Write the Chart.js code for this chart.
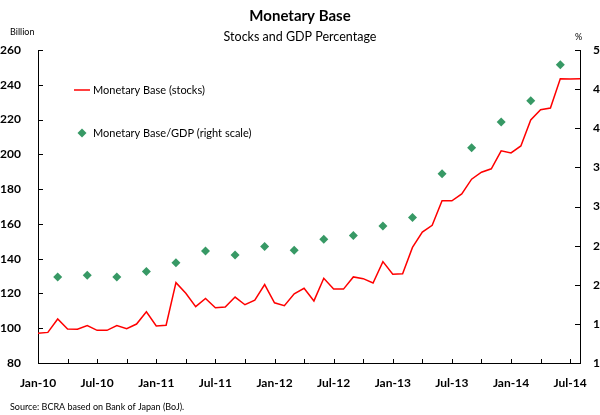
<!DOCTYPE html>
<html>
<head>
<meta charset="utf-8">
<script src="https://cdn.jsdelivr.net/npm/chart.js@4.4.1/dist/chart.umd.min.js"></script>
<style>
  html, body { margin: 0; padding: 0; background: #fff; }
  #wrap { width: 600px; height: 415px; position: relative; }
</style>
</head>
<body>
<div id="wrap"><canvas id="mbChart" width="600" height="415"></canvas></div>
<script>
// Meses Jan-10 .. Aug-14
const monthNames = ['Jan', 'Feb', 'Mar', 'Apr', 'May', 'Jun', 'Jul', 'Aug', 'Sep', 'Oct', 'Nov', 'Dec'];
const years = ['10', '11', '12', '13', '14'];
const months = [];
years.forEach(y => monthNames.forEach(m => { if (months.length < 56) months.push(m + '-' + y); }));

// Base monetaria (stocks), billones de yenes
const baseStocks = [
  97.1, 97.6, 105.3, 99.6, 99.4, 101.5, 98.8, 98.8, 101.5, 99.7, 102.4, 109.5,
  101.3, 101.7, 126.2, 120.1, 112.4, 117.1, 111.8, 112.2, 117.9, 113.5, 116.1, 125.1,
  114.6, 113.0, 119.8, 123.0, 115.7, 128.7, 122.6, 122.5, 129.5, 128.5, 126.0, 138.3,
  131.0, 131.3, 146.5, 155.3, 159.2, 173.3, 173.3, 177.2, 185.7, 189.7, 191.7, 202.0,
  200.8, 204.8, 219.8, 225.7, 226.6, 243.5, 243.3, 243.4
];

// Base monetaria / PBI (%), trimestral
const gdpMonths = ['Mar-10', 'Jun-10', 'Sep-10', 'Dec-10', 'Mar-11', 'Jun-11', 'Sep-11', 'Dec-11', 'Mar-12',
  'Jun-12', 'Sep-12', 'Dec-12', 'Mar-13', 'Jun-13', 'Sep-13', 'Dec-13', 'Mar-14', 'Jun-14'];
const gdpRatio = [21.0, 21.2, 21.0, 21.7, 22.8, 24.3, 23.8, 24.9, 24.4, 25.8, 26.3, 27.5, 28.6, 34.2, 37.5, 40.8, 43.5, 48.1];

const leftTicks = [80, 260, 20];
const rightTicks = [10, 50, 5];

const RED = '#ff0000';
const GREEN = '#379965';
const FONT = 'Lato, "Open Sans", sans-serif';

// Marcas de los ejes hacia adentro
const innerTicks = {
  id: 'innerTicks',
  afterDraw(chart) {
    const ctx = chart.ctx, a = chart.chartArea;
    const y = chart.scales.y, y1 = chart.scales.y1, x = chart.scales.x;
    ctx.save();
    ctx.strokeStyle = '#000';
    ctx.lineWidth = 1;
    ctx.beginPath();
    y.ticks.forEach((t, i) => {
      const py = Math.round(y.getPixelForTick(i)) + 0.5;
      ctx.moveTo(a.left, py); ctx.lineTo(a.left + 5, py);
    });
    y1.ticks.forEach((t, i) => {
      const py = Math.round(y1.getPixelForTick(i)) + 0.5;
      ctx.moveTo(a.right, py); ctx.lineTo(a.right - 5, py);
    });
    for (let i = 0; i < months.length; i += 3) {
      const px = Math.round(x.getPixelForValue(i)) + 0.5;
      ctx.moveTo(px, a.bottom); ctx.lineTo(px, a.bottom - 4);
    }
    ctx.stroke();
    ctx.restore();
  }
};

// Títulos, leyenda y fuente
const chartText = {
  id: 'chartText',
  afterDraw(chart) {
    const ctx = chart.ctx;
    ctx.save();
    ctx.fillStyle = '#000';
    ctx.textBaseline = 'middle';
    ctx.textAlign = 'center';
    ctx.font = 'bold 15px ' + FONT;
    ctx.fillText('Monetary Base', 300, 16);
    ctx.font = '12.5px ' + FONT;
    ctx.fillText('Stocks and GDP Percentage', 300, 37);

    ctx.textAlign = 'left';
    ctx.font = '9px ' + FONT;
    ctx.fillText('Billion', 10, 32);
    ctx.fillText('%', 575, 37);
    ctx.fillText('Source: BCRA based on Bank of Japan (BoJ).', 10, 407);

    // leyenda
    ctx.font = '11px ' + FONT;
    ctx.strokeStyle = RED;
    ctx.lineWidth = 1.5;
    ctx.beginPath();
    ctx.moveTo(74, 90); ctx.lineTo(90, 90);
    ctx.stroke();
    ctx.fillText(chart.data.datasets[0].label, 93, 90);

    ctx.fillStyle = GREEN;
    ctx.beginPath();
    ctx.moveTo(82, 128.5); ctx.lineTo(86.5, 133); ctx.lineTo(82, 137.5); ctx.lineTo(77.5, 133);
    ctx.closePath();
    ctx.fill();
    ctx.fillStyle = '#000';
    ctx.fillText(chart.data.datasets[1].label, 93, 133);
    ctx.restore();
  }
};

const ctx = document.getElementById('mbChart').getContext('2d');
const mbChart = new Chart(ctx, {
  type: 'line',
  data: {
    labels: months,
    datasets: [{
      label: 'Monetary Base (stocks)',
      data: baseStocks,
      borderColor: RED,
      borderWidth: 1.5,
      pointRadius: 0,
      tension: 0,
      fill: false,
      yAxisID: 'y'
    }, {
      label: 'Monetary Base/GDP (right scale)',
      data: gdpMonths.map((m, i) => ({ x: m, y: gdpRatio[i] })),
      showLine: false,
      pointStyle: 'rectRot',
      pointRadius: 4.5,
      backgroundColor: GREEN,
      borderColor: GREEN,
      borderWidth: 0,
      yAxisID: 'y1'
    }]
  },
  options: {
    responsive: false,
    animation: false,
    layout: { padding: { top: 50, left: 0, right: 0, bottom: 0 } },
    plugins: {
      legend: { display: false },
      tooltip: { enabled: false },
      title: { display: false }
    },
    scales: {
      x: {
        type: 'category',
        offset: false,
        grid: { display: false },
        border: { display: true, color: '#000', width: 1 },
        ticks: {
          autoSkip: false,
          maxRotation: 0,
          padding: 5,
          color: '#000',
          font: { family: FONT, size: 12, weight: 'bold' },
          callback: function (v, i) { return i % 6 === 0 ? months[i] : ''; }
        },
        afterFit: s => { s.height = 52; }
      },
      y: {
        position: 'left',
        min: leftTicks[0],
        max: leftTicks[1],
        grid: { display: false },
        border: { display: true, color: '#000', width: 1 },
        ticks: {
          stepSize: leftTicks[2],
          padding: 9,
          color: '#000',
          font: { family: FONT, size: 12, weight: 'bold' }
        },
        afterFit: s => { s.width = 38; }
      },
      y1: {
        position: 'right',
        min: rightTicks[0],
        max: rightTicks[1],
        grid: { display: false },
        border: { display: true, color: '#000', width: 1 },
        ticks: {
          stepSize: rightTicks[2],
          padding: 5,
          color: '#000',
          font: { family: FONT, size: 12, weight: 'bold' }
        },
        afterFit: s => { s.width = 20; }
      }
    }
  },
  plugins: [innerTicks, chartText]
});
</script>
</body>
</html>
